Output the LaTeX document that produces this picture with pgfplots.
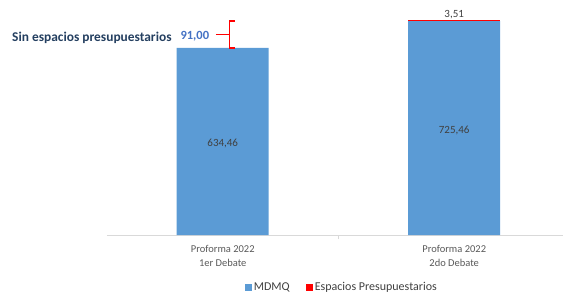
\documentclass[border=0pt]{standalone}
\usepackage{pgfplots}
\pgfplotsset{compat=1.18}
\usepackage{fontspec}
\setmainfont{Carlito}
\definecolor{mblue}{HTML}{5B9BD5}
\definecolor{mred}{HTML}{FF0000}
\definecolor{lblgray}{HTML}{595959}
\definecolor{dgray}{HTML}{404040}
\definecolor{navy}{HTML}{243F60}
\definecolor{numblue}{HTML}{4472C4}
\begin{document}
\begin{tikzpicture}
\useasboundingbox (-107bp,-61bp) rectangle (456bp,235bp);
\begin{axis}[
  at={(0,0)}, anchor=south west,
  scale only axis=true, clip=false,
  width=456bp, height=235bp,
  ybar stacked, bar width=92bp,
  xmin=-0.5, xmax=1.47,
  ymin=0, ymax=797,
  axis x line*=bottom, axis y line=none,
  x axis line style={draw=black!15, line width=0.8pt, -},
  xtick={0,1},
  xticklabels={{Proforma 2022\\1er Debate},{Proforma 2022\\2do Debate}},
  xticklabel style={align=center, font=\fontsize{10.5bp}{14bp}\selectfont, text=lblgray, yshift=-7bp},
  major tick length=0pt,
  extra x ticks={0.5}, extra x tick labels={},
  extra x tick style={major tick length=4bp, xtick align=outside, tick style={draw=black!15, line width=0.8pt}},
  legend style={at={(axis description cs:0.515,0)}, anchor=center, yshift=-52bp, draw=none, fill=none,
    legend columns=2, font=\fontsize{12bp}{14bp}\selectfont, text=dgray,
    /tikz/every even column/.append style={column sep=14bp}},
  legend image code/.code={\fill[#1] (0bp,-3.5bp) rectangle (7bp,3.5bp);},
]
\addplot[fill=mblue, draw=none] coordinates {(0,634.46) (1,725.46)};
\addplot[fill=mred, draw=none] coordinates {(0,0) (1,3.51)};
\legend{MDMQ, Espacios Presupuestarios}
\coordinate (l1) at (axis cs:0,317.23);
\coordinate (l2) at (axis cs:1,362.73);
\coordinate (l3) at (axis cs:1,728.97);
\coordinate (bmid) at (axis cs:-0.03,680);
\coordinate (bvert) at (axis cs:0.03,680);
\coordinate (btop) at (axis cs:0.03,725.46);
\coordinate (bbot) at (axis cs:0.03,634.46);
\coordinate (ser) at (axis cs:0.052,680);
\coordinate (num) at (axis cs:-0.058,680);
\end{axis}
\node[font=\fontsize{11bp}{13bp}\selectfont, text=dgray, yshift=-2bp] at (l1) {634,46};
\node[font=\fontsize{11bp}{13bp}\selectfont, text=dgray, yshift=-2bp] at (l2) {725,46};
\node[font=\fontsize{11bp}{13bp}\selectfont, text=dgray, anchor=south, inner sep=0.5bp] at (l3) {3,51};
\draw[mred, line width=1.6bp] (bmid) -- (bvert);
\draw[mred, line width=1.6bp] (ser|-btop) -- (btop) -- (bbot) -- (ser|-bbot);
\node[font=\bfseries\fontsize{12.5bp}{14bp}\selectfont, text=numblue, anchor=east, inner sep=0pt, yshift=-1.5bp] at (num) {91,00};
\node[font=\bfseries\fontsize{13.4bp}{15bp}\selectfont, text=navy, anchor=west, inner sep=0pt] at (-95bp,197bp) {Sin espacios presupuestarios};
\end{tikzpicture}
\end{document}
